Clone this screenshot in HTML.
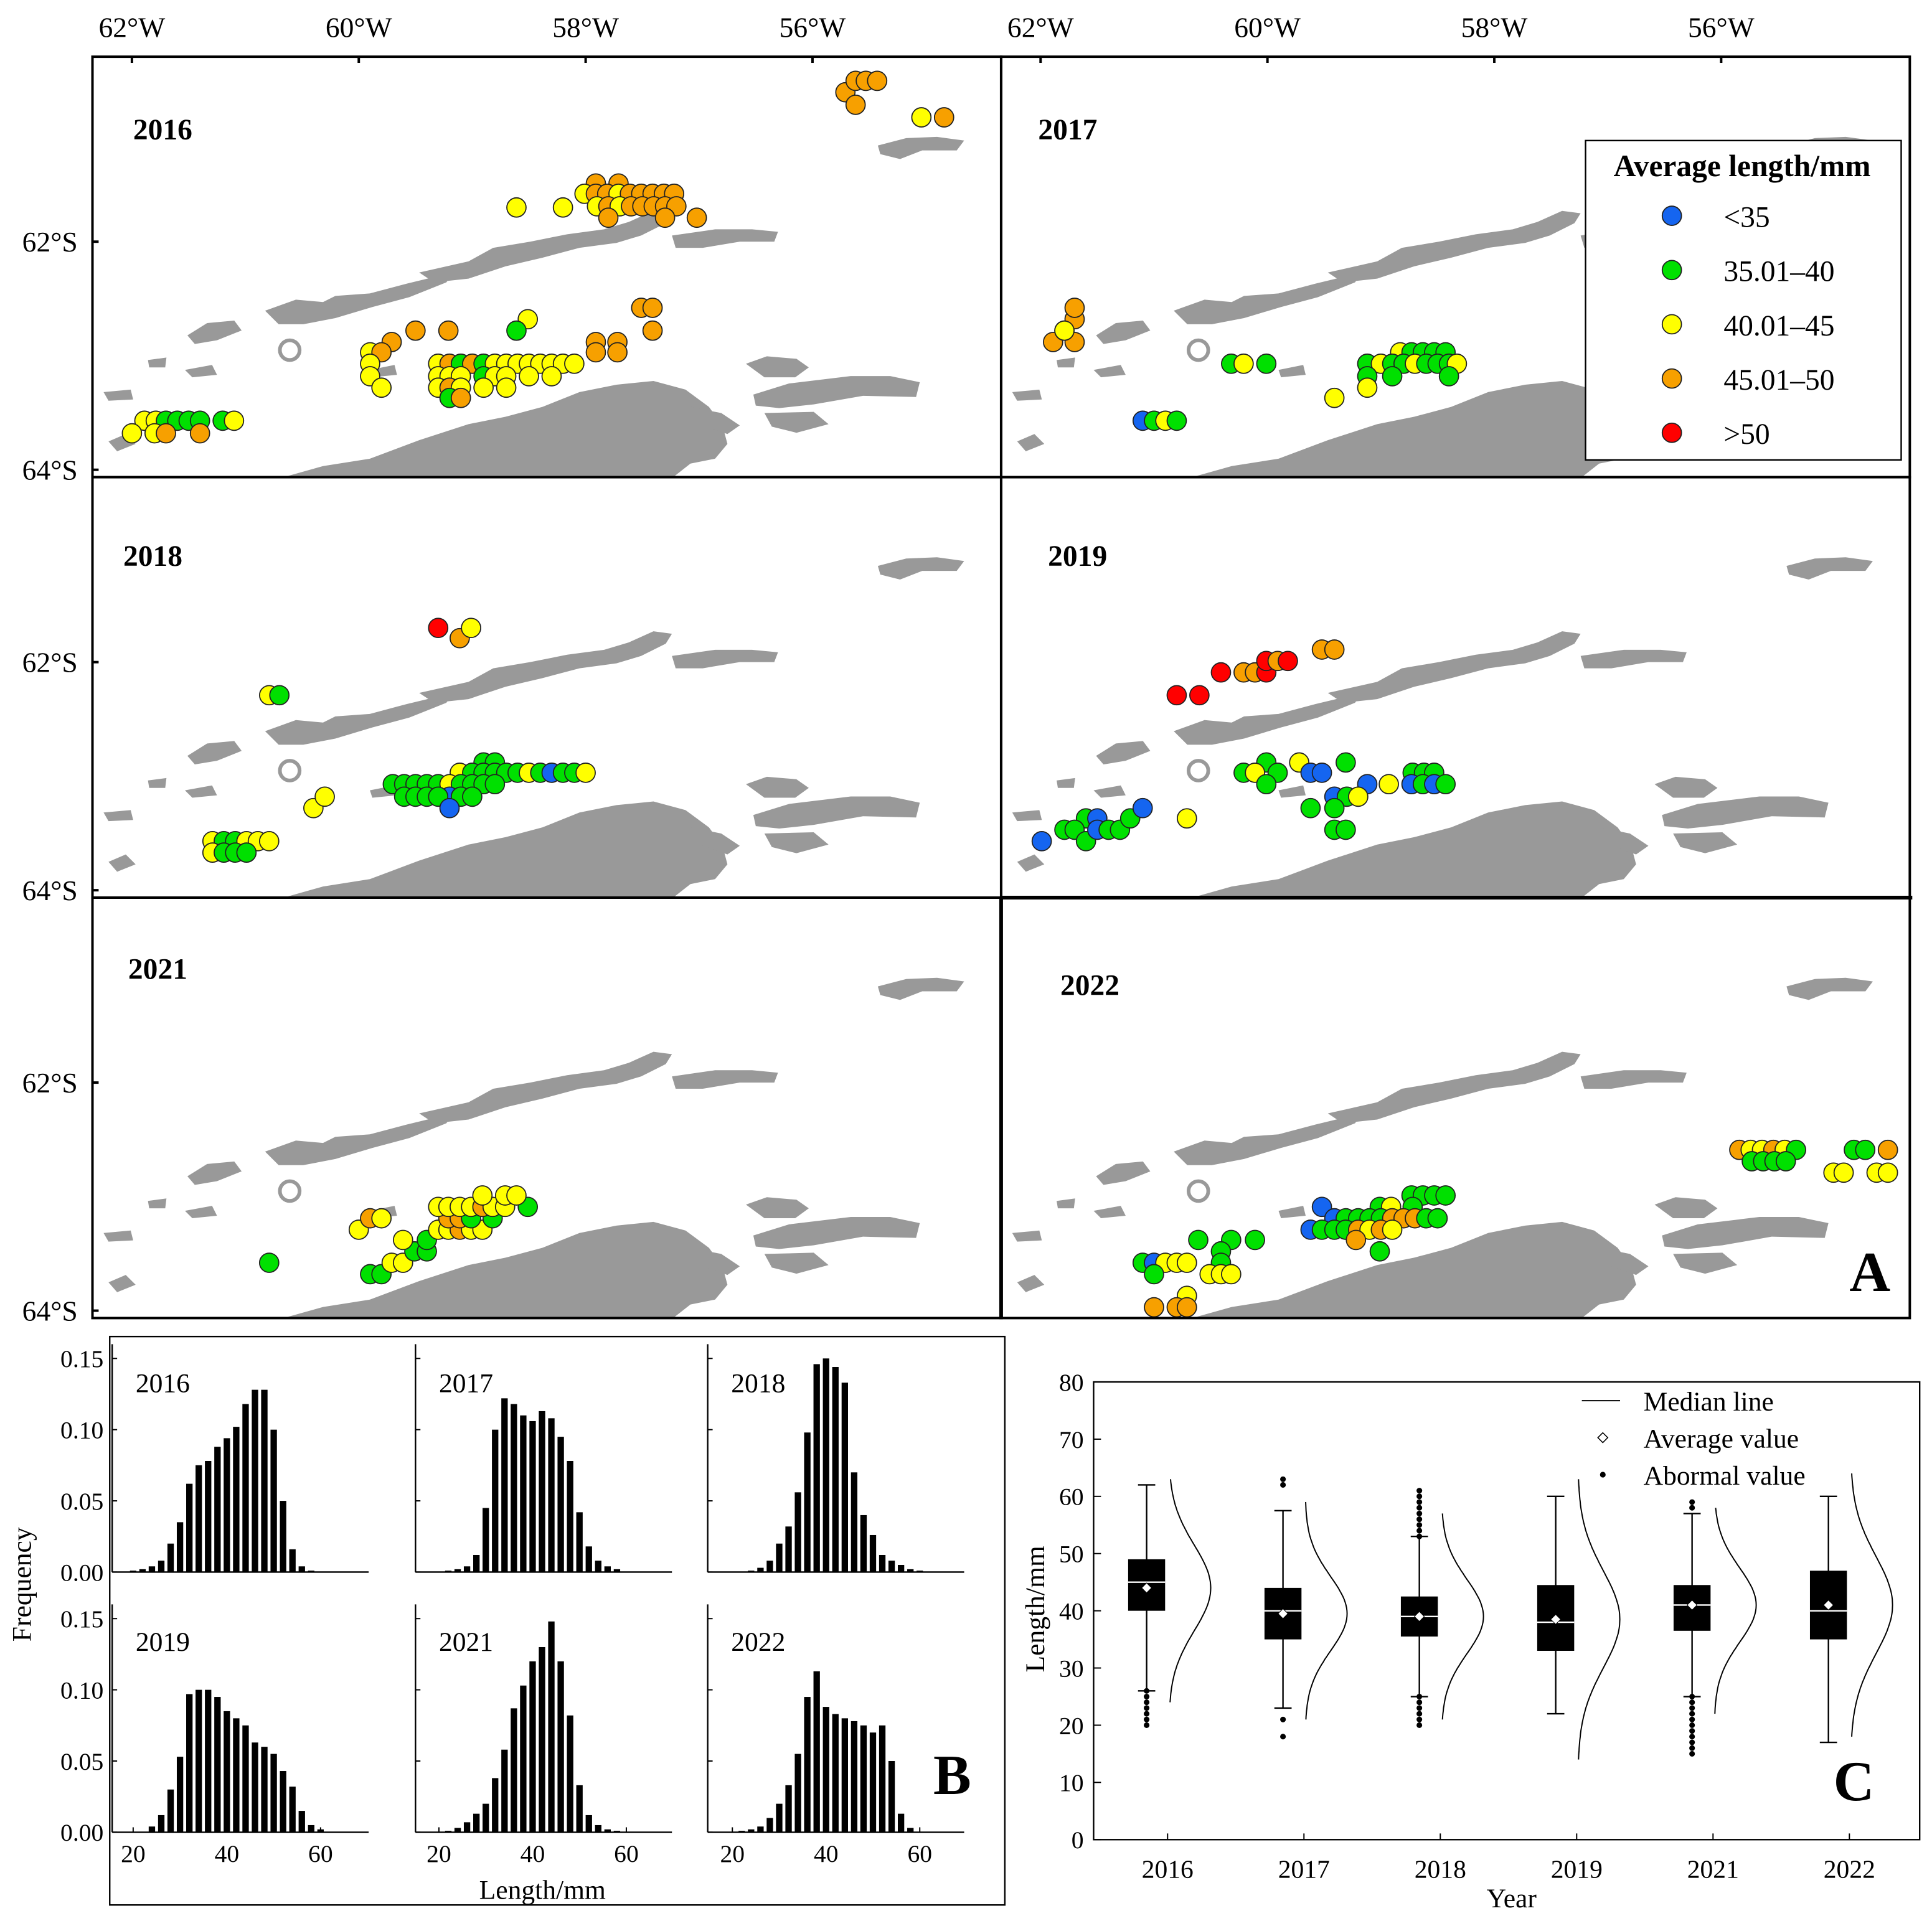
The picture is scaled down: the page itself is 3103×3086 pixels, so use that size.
<!DOCTYPE html>
<html><head><meta charset="utf-8"><style>
html,body{margin:0;padding:0;background:#fff}
svg{display:block}
text{font-family:"Liberation Serif",serif;fill:#000}
</style></head><body>
<svg id="fig" width="3103" height="3086" viewBox="0 0 1567 1558" preserveAspectRatio="none" xmlns="http://www.w3.org/2000/svg">
<defs>
<clipPath id="cp"><rect x="0" y="0" width="737" height="341"/></clipPath>
<g id="land" fill="#999">
<polygon points="712,118 735,112 760,111 782,114 776,122 748,122 730,129 714,125"/>
<polygon points="152,272 168,262 190,260 196,268 176,276 158,279"/>
<polygon points="215,252 240,243 262,245 272,240 300,238 330,230 355,224 372,216 362,229 332,241 302,249 272,258 246,263 226,263"/>
<polygon points="340,221 380,212 400,201 430,196 460,190 490,186 510,180 530,171 545,173 540,181 520,191 500,197 470,201 440,209 410,216 380,226 352,229"/>
<polygon points="545,191 580,186 610,186 631,188 628,196 600,196 570,201 548,201"/>
<polygon points="230,387 262,378 300,372 340,357 380,344 410,338 440,330 470,318 500,312 530,309 556,316 575,330 586,345 590,360 580,372 560,376 546,387"/>
<polygon points="560,330 585,335 600,345 590,352 570,345"/>
<polygon points="605,295 622,289 646,291 656,298 645,306 620,306"/>
<polygon points="611,320 640,311 690,305 722,305 746,310 743,322 700,321 660,328 632,331 613,329"/>
<polygon points="620,335 660,334 672,344 646,351 626,346"/>
<polygon points="84,318 106,316 108,324 88,325"/>
<polygon points="120,292 135,290 134,298 121,298"/>
<polygon points="88,358 102,352 110,360 95,366"/>
<polygon points="150,300 172,296 176,304 156,306"/>
<circle cx="235" cy="284" r="8" fill="none" stroke="#999" stroke-width="3"/>
<polygon points="300,300 320,296 322,304 302,306"/>
</g>
</defs>
<g id="maps"></g>
<g id="hist"></g>
<g id="box"></g>
</svg>
<script>
const NS="http://www.w3.org/2000/svg";
function mk(tag,attrs,parent){const e=document.createElementNS(NS,tag);for(const k in attrs)e.setAttribute(k,attrs[k]);parent.appendChild(e);return e;}
function tx(str,x,y,size,parent,anchor,weight){const t=mk('text',{x:x,y:y,'font-size':size,'text-anchor':anchor||'start','font-weight':weight||'normal'},parent);t.textContent=str;return t;}

/* ---------- MAP DATA ---------- */
const years=["2016","2017","2018","2019","2021","2022"];
const pts2016=[["o",-55.71,-60.69],["o",-55.62,-60.59],["o",-55.53,-60.59],["o",-55.43,-60.59],["o",-55.62,-60.80],["y",-55.04,-60.91],["o",-54.84,-60.91],
["y",-58.61,-61.70],["y",-58.2,-61.70],["o",-57.91,-61.49],["o",-57.71,-61.49],
["y",-58.01,-61.58],["o",-57.91,-61.58],["o",-57.81,-61.58],["y",-57.71,-61.58],["o",-57.61,-61.58],["o",-57.51,-61.58],["o",-57.41,-61.58],["o",-57.31,-61.58],["o",-57.22,-61.58],
["y",-57.9,-61.69],["o",-57.8,-61.69],["y",-57.7,-61.69],["o",-57.6,-61.69],["o",-57.5,-61.69],["o",-57.4,-61.69],["o",-57.3,-61.69],["o",-57.2,-61.69],
["o",-57.8,-61.79],["o",-57.3,-61.79],["o",-57.02,-61.79],
["o",-59.71,-62.88],["o",-59.5,-62.78],["o",-59.21,-62.78],["o",-57.51,-62.58],["o",-57.41,-62.58],["o",-57.41,-62.78],["y",-58.51,-62.68],["g",-58.61,-62.78],
["y",-59.9,-62.97],["o",-59.8,-62.97],["o",-57.91,-62.88],["o",-57.72,-62.88],["o",-57.91,-62.97],["o",-57.72,-62.97],
["y",-59.9,-63.07],["y",-59.3,-63.07],["o",-59.2,-63.07],["g",-59.1,-63.07],["o",-59.0,-63.07],["g",-58.9,-63.07],["y",-58.8,-63.07],["y",-58.7,-63.07],["y",-58.6,-63.07],["y",-58.5,-63.07],["y",-58.4,-63.07],["y",-58.3,-63.07],["y",-58.2,-63.07],["y",-58.1,-63.07],
["y",-59.9,-63.18],["y",-59.3,-63.18],["y",-59.2,-63.18],["y",-59.1,-63.18],["g",-58.9,-63.18],["y",-58.8,-63.18],["y",-58.7,-63.18],["y",-58.5,-63.18],["y",-58.3,-63.18],
["y",-59.8,-63.28],["y",-59.3,-63.28],["o",-59.2,-63.28],["y",-59.1,-63.28],["y",-58.9,-63.28],["y",-58.7,-63.28],
["g",-59.2,-63.37],["o",-59.1,-63.37],
["y",-61.89,-63.57],["y",-61.79,-63.57],["g",-61.7,-63.57],["g",-61.6,-63.57],["g",-61.5,-63.57],["g",-61.4,-63.57],["g",-61.2,-63.57],["y",-61.1,-63.57],
["y",-62.0,-63.68],["y",-61.8,-63.68],["o",-61.7,-63.68],["o",-61.4,-63.68]];
const pts2017=[["o",-61.89,-62.88],["o",-61.79,-62.78],["o",-61.7,-62.68],["o",-61.7,-62.58],["o",-61.7,-62.88],["y",-61.79,-62.78],
["g",-60.32,-63.07],["y",-60.21,-63.07],["g",-60.01,-63.07],
["y",-58.83,-62.97],["g",-58.73,-62.97],["g",-58.63,-62.97],["g",-58.53,-62.97],["g",-58.43,-62.97],
["g",-59.12,-63.07],["y",-59.0,-63.07],["g",-58.9,-63.07],["g",-58.8,-63.07],["y",-58.7,-63.07],["g",-58.6,-63.07],["g",-58.5,-63.07],["g",-58.4,-63.07],["y",-58.33,-63.07],
["g",-59.12,-63.18],["g",-58.9,-63.18],["g",-58.4,-63.18],["y",-59.12,-63.28],["y",-59.41,-63.37],
["b",-61.1,-63.57],["g",-61.0,-63.57],["y",-60.9,-63.57],["g",-60.8,-63.57]];
const pts2018=[["r",-59.3,-61.70],["o",-59.11,-61.79],["y",-59.01,-61.70],["y",-60.79,-62.29],["g",-60.7,-62.29],
["g",-58.9,-62.88],["g",-58.8,-62.88],
["y",-59.11,-62.97],["g",-59.0,-62.97],["g",-58.9,-62.97],["g",-58.8,-62.97],["g",-58.7,-62.97],["g",-58.6,-62.97],["y",-58.5,-62.97],["g",-58.4,-62.97],["b",-58.3,-62.97],["g",-58.2,-62.97],["g",-58.1,-62.97],["y",-58.0,-62.97],
["g",-59.7,-63.07],["g",-59.6,-63.07],["g",-59.5,-63.07],["g",-59.4,-63.07],["g",-59.3,-63.07],["y",-59.2,-63.07],["g",-59.1,-63.07],["g",-59.0,-63.07],["g",-58.9,-63.07],["g",-58.8,-63.07],
["g",-59.6,-63.18],["g",-59.5,-63.18],["g",-59.4,-63.18],["b",-59.2,-63.18],["g",-59.3,-63.18],["g",-59.1,-63.18],["g",-59.0,-63.18],
["b",-59.2,-63.28],["y",-60.4,-63.28],["y",-60.3,-63.18],
["y",-61.29,-63.57],["g",-61.19,-63.57],["g",-61.09,-63.57],["y",-60.99,-63.57],["y",-60.89,-63.57],["y",-60.79,-63.57],
["y",-61.29,-63.67],["g",-61.19,-63.67],["g",-61.09,-63.67],["g",-60.99,-63.67]];
const pts2019=[["r",-60.8,-62.29],["r",-60.6,-62.29],["r",-60.41,-62.09],["o",-60.21,-62.09],["o",-60.11,-62.09],["r",-60.01,-62.09],["r",-60.01,-61.99],["o",-59.91,-61.99],["r",-59.82,-61.99],["o",-59.52,-61.89],["o",-59.41,-61.89],
["y",-59.72,-62.88],["g",-60.01,-62.88],["g",-59.31,-62.88],
["g",-60.21,-62.97],["y",-60.11,-62.97],["g",-59.91,-62.97],["b",-59.62,-62.97],["b",-59.52,-62.97],["g",-58.72,-62.97],["g",-58.62,-62.97],["g",-58.53,-62.97],
["y",-58.93,-63.07],["b",-58.73,-63.07],["g",-58.63,-63.07],["b",-58.53,-63.07],["g",-58.43,-63.07],["b",-59.12,-63.07],["g",-60.01,-63.07],
["b",-59.41,-63.18],["g",-59.3,-63.18],["y",-59.2,-63.18],["g",-59.62,-63.28],["g",-59.41,-63.28],["g",-59.41,-63.47],["g",-59.31,-63.47],
["b",-61.99,-63.57],["g",-61.79,-63.47],["g",-61.6,-63.37],["b",-61.5,-63.37],["g",-61.7,-63.47],["g",-61.6,-63.57],["b",-61.5,-63.47],["g",-61.4,-63.47],["g",-61.3,-63.47],["g",-61.21,-63.37],["b",-61.1,-63.28],["y",-60.71,-63.37]];
const pts2021=[["g",-60.79,-63.58],["y",-60.0,-63.29],["o",-59.9,-63.19],["y",-59.8,-63.19],
["g",-59.9,-63.68],["g",-59.8,-63.68],["y",-59.71,-63.58],["y",-59.61,-63.58],["g",-59.51,-63.48],["g",-59.4,-63.48],["y",-59.61,-63.38],["g",-59.4,-63.38],
["y",-59.3,-63.29],["y",-59.21,-63.29],["o",-59.11,-63.29],["y",-59.01,-63.29],["y",-58.91,-63.29],
["o",-59.21,-63.19],["o",-59.11,-63.19],["g",-59.01,-63.19],["g",-58.82,-63.19],
["y",-59.3,-63.09],["y",-59.21,-63.09],["y",-59.11,-63.09],["y",-59.01,-63.09],["o",-58.91,-63.09],["y",-58.82,-63.09],["y",-58.71,-63.09],["g",-58.51,-63.09],
["y",-58.91,-62.99],["y",-58.71,-62.99],["y",-58.61,-62.99]];
const pts2022=[["o",-55.84,-62.59],["y",-55.74,-62.59],["y",-55.64,-62.59],["o",-55.54,-62.59],["y",-55.44,-62.59],["g",-55.34,-62.59],
["g",-55.73,-62.69],["g",-55.63,-62.69],["g",-55.53,-62.69],["g",-55.43,-62.69],
["g",-54.83,-62.59],["g",-54.73,-62.59],["o",-54.53,-62.59],["y",-55.01,-62.79],["y",-54.92,-62.79],["y",-54.63,-62.79],["y",-54.53,-62.79],
["g",-58.73,-62.99],["g",-58.63,-62.99],["g",-58.53,-62.99],["g",-58.43,-62.99],
["b",-59.52,-63.09],["g",-59.01,-63.09],["y",-58.91,-63.09],["g",-58.72,-63.09],
["b",-59.41,-63.19],["g",-59.31,-63.19],["g",-59.2,-63.19],["g",-59.1,-63.19],["g",-59.0,-63.19],["o",-58.9,-63.19],["o",-58.8,-63.19],["o",-58.7,-63.19],["g",-58.6,-63.19],["g",-58.5,-63.19],
["b",-59.62,-63.29],["g",-59.52,-63.29],["g",-59.41,-63.29],["g",-59.31,-63.29],["o",-59.2,-63.29],["y",-59.1,-63.29],["o",-59.0,-63.29],["y",-58.9,-63.29],
["o",-59.22,-63.38],["g",-59.01,-63.48],
["g",-61.1,-63.58],["b",-61.0,-63.58],["y",-60.9,-63.58],["y",-60.8,-63.58],["y",-60.71,-63.58],["g",-61.0,-63.68],
["g",-60.61,-63.38],["g",-60.32,-63.38],["g",-60.11,-63.38],["g",-60.41,-63.48],["g",-60.41,-63.58],
["y",-60.51,-63.68],["y",-60.41,-63.68],["y",-60.32,-63.68],["y",-60.71,-63.87],["o",-61.0,-63.97],["o",-60.8,-63.97],["o",-60.71,-63.97]];
const allPts=[pts2016,pts2017,pts2018,pts2019,pts2021,pts2022];
const catColors={b:"#1565f0",g:"#00e000",y:"#ffff00",o:"#f7a000",r:"#ff0000"};
const legendLabels=["<35","35.01\u201340","40.01\u201345","45.01\u201350",">50"];
const legendCats=["b","g","y","o","r"];
const lonTicks=[-62,-60,-58,-56];
const latTicks=[-62,-64];

const maps=document.getElementById('maps');
const PW=737,PH=341,X0=75,Y0=46;
function lonX(lon){return 32+(lon+62)*92;}
function latY(lat){return 150+(-lat-62)*92.5;}
years.forEach((yr,i)=>{
  const col=i%2,row=Math.floor(i/2);
  const px=X0+col*PW,py=Y0+row*PH;
  const g=mk('g',{transform:`translate(${px},${py})`},maps);
  
  
  const inner=mk('g',{'clip-path':'url(#cp)'},g);
  mk('use',{href:'#land',transform:'translate(-75,-46)'},inner);
  allPts[i].forEach(p=>{
    const c=mk('circle',{cx:lonX(p[1]),cy:latY(p[2]),r:7.8,fill:catColors[p[0]],stroke:'#222','stroke-width':0.9},inner);
    
    
  });
  const lx=[33,30,25,38,29,48][i],ly=[67,67,72,72,66,79][i];
  const t=tx(yr,lx,ly,24,g,'start','bold');
  
  
  mk('rect',{x:0,y:0,width:PW,height:PH,fill:'none',stroke:'#000','stroke-width':2},g);
  if(row===0){lonTicks.forEach(l=>{mk('line',{x1:lonX(l),x2:lonX(l),y1:0,y2:5,stroke:'#000','stroke-width':2},g);
    const tt=tx(Math.abs(l)+'\u00b0W',lonX(l),-16,23,g,'middle');});}
  if(col===0){latTicks.forEach(l=>{mk('line',{x1:0,x2:5,y1:latY(l),y2:latY(l),stroke:'#000','stroke-width':2},g);
    const tt=tx(Math.abs(l)+'\u00b0S',-12,latY(l)+8,23,g,'end');});}
});
/* legend */
const lg=mk('g',{},maps);


mk('rect',{x:1286,y:114,width:256,height:259,fill:'#fff',stroke:'#000','stroke-width':1.2},lg);
tx('Average length/mm',1413,143,25,lg,'middle','bold');
legendCats.forEach((c,k)=>{const yy=175+k*44;
  mk('circle',{cx:1356,cy:yy,r:7.8,fill:catColors[c],stroke:'#222','stroke-width':0.9},lg);
  const t=tx(legendLabels[k],1398,yy+9,24,lg);});
const tA=tx('A',1500,1047,46,maps,'start','bold');
mk('line',{x1:812,y1:728,x2:1551,y2:728,stroke:'#000','stroke-width':3},maps);
mk('line',{x1:812,y1:728,x2:812,y2:1070,stroke:'#000','stroke-width':3},maps);

/* ---------- HISTOGRAM DATA ---------- */
const histBins=[20,22,24,26,28,30,32,34,36,38,40,42,44,46,48,50,52,54,56,58,60];
const hist2016=[0.001,0.002,0.004,0.008,0.02,0.035,0.062,0.075,0.078,0.088,0.094,0.102,0.118,0.128,0.128,0.1,0.05,0.016,0.004,0.001,0];
const hist2017=[0,0.001,0.002,0.004,0.012,0.045,0.1,0.122,0.118,0.11,0.106,0.113,0.108,0.095,0.078,0.042,0.018,0.008,0.004,0.002,0];
const hist2018=[0,0,0.001,0.003,0.008,0.02,0.032,0.056,0.098,0.146,0.15,0.144,0.133,0.07,0.04,0.026,0.012,0.008,0.005,0.002,0.001];
const hist2019=[0,0,0.004,0.012,0.03,0.053,0.097,0.1,0.1,0.095,0.085,0.08,0.075,0.063,0.06,0.055,0.043,0.032,0.015,0.005,0.002];
const hist2021=[0,0.001,0.003,0.007,0.013,0.02,0.038,0.058,0.087,0.103,0.12,0.13,0.148,0.12,0.082,0.033,0.012,0.005,0.002,0.001,0];
const hist2022=[0,0.001,0.002,0.004,0.01,0.02,0.033,0.055,0.095,0.113,0.088,0.083,0.08,0.078,0.075,0.07,0.075,0.05,0.013,0.003,0];
const histAll=[hist2016,hist2017,hist2018,hist2019,hist2021,hist2022];
const freqTicks=[0,0.05,0.10,0.15];
const freqTickLabels=["0.00","0.05","0.10","0.15"];
const lenTicks=[20,40,60];

const hist=document.getElementById('hist');
mk('rect',{x:89,y:1084,width:726,height:461,fill:'none',stroke:'#000','stroke-width':1.2},hist);
const colX20=[108,356,594],colLeft=[91,337,574],rowBase=[1275,1486];
years.forEach((yr,i)=>{
  const col=i%3,row=Math.floor(i/3);
  const xs=v=>colX20[col]+(v-20)*3.8, ys=f=>rowBase[row]-f*1155;
  const g=mk('g',{},hist);
  
  
  mk('line',{x1:colLeft[col],x2:colLeft[col]+208,y1:rowBase[row],y2:rowBase[row],stroke:'#000','stroke-width':1.2},g);
  mk('line',{x1:colLeft[col],x2:colLeft[col],y1:rowBase[row],y2:ys(0.16),stroke:'#000','stroke-width':1.2},g);
  histAll[i].forEach((f,k)=>{if(f<=0)return;
    const r=mk('rect',{x:xs(histBins[k])-2.6,y:ys(f),width:5.2,height:rowBase[row]-ys(f),fill:'#000'},g);
    
    });
  freqTicks.forEach(t=>mk('line',{x1:colLeft[col],x2:colLeft[col]+4,y1:ys(t),y2:ys(t),stroke:'#000'},g));
  if(col===0)freqTicks.forEach((t,k)=>tx(freqTickLabels[k],84,ys(t)+7,20,g,'end'));
  if(row===1)lenTicks.forEach(v=>{mk('line',{x1:xs(v),x2:xs(v),y1:rowBase[row],y2:rowBase[row]-4,stroke:'#000'},g);tx(String(v),xs(v),1510,20,g,'middle');});
  tx(yr,colLeft[col]+19,1129+row*210,22,g);
});
const fl=tx('Frequency',0,0,22,hist,'middle');fl.setAttribute('transform','translate(25,1285) rotate(-90)');
const lx=tx('Length/mm',440,1540,22,hist,'middle');
const tB=tx('B',757,1455,46,hist,'start','bold');

/* ---------- BOX PLOT DATA ---------- */
const boxYears=["2016","2017","2018","2019","2021","2022"];
const boxLow=[26,23,25,22,25,17];
const boxQ1=[40,35,35.5,33,36.5,35];
const boxMed=[45,40,39,38,41,40];
const boxMean=[44,39.5,39,38.5,41,41];
const boxQ3=[49,44,42.5,44.5,44.5,47];
const boxHigh=[62,57.5,53,60,57,60];
const boxSd=[7.5,6.5,6.5,8.5,6.5,8.5];
const curveLo=[24,21,21,14,22,18];
const curveHi=[63,59,57,63,58,64];
const out2016=[20,21,22,23,24,25,26];
const out2017=[18,21,62,63];
const out2018=[20,21,22,23,24,25,53,54,55,56,57,58,59,60,61];
const out2019=[];
const out2021=[15,16,17,18,19,20,21,22,23,24,25,58,59];
const out2022=[];
const outAll=[out2016,out2017,out2018,out2019,out2021,out2022];
const lenAxisTicks=[0,10,20,30,40,50,60,70,80];

const box=document.getElementById('box');
const by=v=>1492-v*4.64;
const bx=i=>930+i*110.6;
mk('rect',{x:887,y:by(80),width:670,height:by(0)-by(80),fill:'none',stroke:'#000','stroke-width':1.2},box);
lenAxisTicks.forEach(t=>{mk('line',{x1:887,x2:893,y1:by(t),y2:by(t),stroke:'#000'},box);tx(String(t),879,by(t)+7,20,box,'end');});
boxYears.forEach((yr,i)=>{
  const c=bx(i);
  const g=mk('g',{},box);
  
  
  mk('line',{x1:c,x2:c,y1:by(boxLow[i]),y2:by(boxHigh[i]),stroke:'#000','stroke-width':1.2},g);
  mk('line',{x1:c-7,x2:c+7,y1:by(boxLow[i]),y2:by(boxLow[i]),stroke:'#000','stroke-width':1.2},g);
  mk('line',{x1:c-7,x2:c+7,y1:by(boxHigh[i]),y2:by(boxHigh[i]),stroke:'#000','stroke-width':1.2},g);
  mk('rect',{x:c-15,y:by(boxQ3[i]),width:30,height:by(boxQ1[i])-by(boxQ3[i]),fill:'#000'},g);
  mk('line',{x1:c-15,x2:c+15,y1:by(boxMed[i]),y2:by(boxMed[i]),stroke:'#fff','stroke-width':1.2},g);
  const m=by(boxMean[i]);
  mk('polygon',{points:`${c},${m-4} ${c+4},${m} ${c},${m+4} ${c-4},${m}`,fill:'#fff',stroke:'#000','stroke-width':0.5},g);
  outAll[i].forEach(v=>mk('circle',{cx:c,cy:by(v),r:2.3,fill:'#000'},g));
  let d='';
  for(let v=curveHi[i];v>=curveLo[i];v-=0.5){const z=(v-boxMean[i])/boxSd[i];const xx=c+18+34*Math.exp(-z*z/2);d+=(d?'L':'M')+xx.toFixed(1)+','+by(v).toFixed(1);}
  mk('path',{d:d,fill:'none',stroke:'#000','stroke-width':1},g);
  mk('line',{x1:c+17,x2:c+17,y1:by(0),y2:by(0)-5,stroke:'#000'},g);
  tx(yr,c+17,1523,21,g,'middle');
});
const bl=tx('Length/mm',0,0,22,box,'middle');bl.setAttribute('transform','translate(847,1305) rotate(-90)');
const yl=tx('Year',1226,1547,22,box,'middle');
const bleg=mk('g',{},box);


mk('line',{x1:1283,x2:1314,y1:1136,y2:1136,stroke:'#000'},bleg);
tx('Median line',1333,1144,22,bleg);
mk('polygon',{points:'1300,1162 1304,1166 1300,1170 1296,1166',fill:'#fff',stroke:'#000','stroke-width':0.8},bleg);
tx('Average value',1333,1174,22,bleg);
mk('circle',{cx:1300,cy:1196,r:2.3,fill:'#000'},bleg);
tx('Abormal value',1333,1204,22,bleg);
const tC=tx('C',1487,1460,46,box,'start','bold');
</script>
</body></html>
